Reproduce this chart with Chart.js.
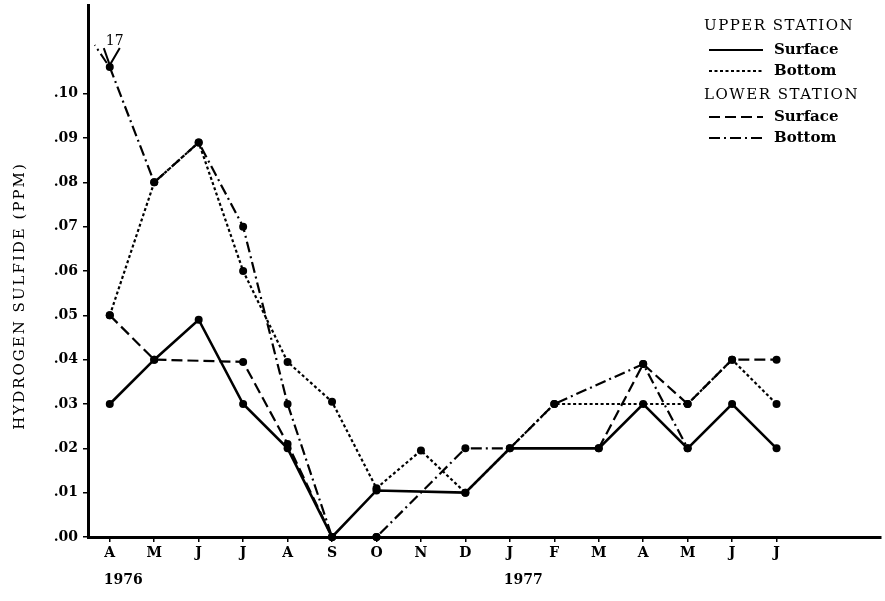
<!DOCTYPE html>
<html>
<head>
<meta charset="utf-8">
<title>Hydrogen sulfide</title>
<script src="https://cdn.jsdelivr.net/npm/chart.js@4"></script>
<style>
  html, body { margin: 0; padding: 0; background: #fff; }
  #wrap { width: 885px; height: 601px; position: relative; }
</style>
</head>
<body>
<div id="wrap"><canvas id="chart"></canvas></div>
<script>
// month index 0 = April 1976 ... 15 = July 1977
const months = ['A', 'M', 'J', 'J', 'A', 'S', 'O', 'N', 'D', 'J', 'F', 'M', 'A', 'M', 'J', 'J'];
const years = ['1976', '', '', '', '', '', '', '', '', '1977', '', '', '', '', '', ''];

const yTickValues = [0, 0.01, 0.02, 0.03, 0.04, 0.05, 0.06, 0.07, 0.08, 0.09, 0.10];
const yTickLabels = ['.00', '.01', '.02', '.03', '.04', '.05', '.06', '.07', '.08', '.09', '.10'];

// null = no sample that month
const upperSurface = [0.030, 0.040, 0.049, 0.030, 0.020, 0.000, 0.0105, null, 0.010, 0.020, null, 0.020, 0.030, 0.020, 0.030, 0.020];
const upperBottom  = [0.050, 0.080, 0.089, 0.060, 0.0395, 0.0305, 0.011, 0.0195, 0.010, null, 0.030, null, null, 0.030, 0.040, 0.030];
const lowerSurface = [0.050, 0.040, null, 0.0395, 0.021, 0.000, 0.000, null, null, null, null, 0.020, 0.039, 0.030, 0.040, 0.040];
const lowerBottom  = [0.106, 0.080, 0.089, 0.070, 0.030, 0.000, 0.000, null, 0.020, 0.020, 0.030, null, 0.039, 0.020, null, null];

// off-scale April 1976 lower bottom value, written beside the broken point
const offScaleNote = { index: 0, text: '17' };

// gaps longer than this many months are left unjoined
const MAX_JOIN = 3;

const SERIF = '"DejaVu Serif", "Liberation Serif", serif';

const toPoints = arr => arr.map((v, i) => ({ x: i, y: v })).filter(p => p.y !== null);

const styles = {
    solid: [],
    dotted: [3, 2.5],
    dashed: [11, 5],
    dashDot: [11, 4, 2, 4]
};

function makeSet(label, data, dash) {
    return {
        label: label,
        data: toPoints(data),
        borderColor: '#000',
        backgroundColor: '#000',
        borderWidth: dash.length ? 2.2 : 2.6,
        borderDash: dash,
        pointRadius: 4,
        pointHoverRadius: 4,
        pointBackgroundColor: '#000',
        pointBorderWidth: 0,
        tension: 0,
        clip: false,
        segment: {
            borderColor: c => (c.p1.parsed.x - c.p0.parsed.x > MAX_JOIN ? 'rgba(0,0,0,0)' : undefined)
        }
    };
}

// legend with station headers, axis title and year labels, drawn on the canvas
const stationLegend = {
    id: 'stationLegend',
    afterDraw(chart) {
        const ctx = chart.ctx;
        const xs = chart.scales.x;
        ctx.save();
        ctx.fillStyle = '#000';
        ctx.strokeStyle = '#000';
        ctx.textBaseline = 'middle';
        ctx.textAlign = 'left';

        const rows = [
            { head: 'UPPER STATION', y: 26 },
            { name: 'Surface', dash: styles.solid, y: 50 },
            { name: 'Bottom', dash: styles.dotted, y: 71 },
            { head: 'LOWER STATION', y: 95 },
            { name: 'Surface', dash: styles.dashed, y: 117 },
            { name: 'Bottom', dash: styles.dashDot, y: 138 }
        ];
        rows.forEach(r => {
            if (r.head) {
                ctx.font = '15px ' + SERIF;
                ctx.letterSpacing = '1.5px';
                ctx.fillText(r.head, 704, r.y);
                ctx.letterSpacing = '0px';
            } else {
                ctx.beginPath();
                ctx.setLineDash(r.dash);
                ctx.lineWidth = 2;
                ctx.moveTo(709, r.y);
                ctx.lineTo(763, r.y);
                ctx.stroke();
                ctx.setLineDash([]);
                ctx.font = 'bold 15px ' + SERIF;
                ctx.fillText(r.name, 774, r.y);
            }
        });

        // years under the month letters
        ctx.font = 'bold 14px ' + SERIF;
        years.forEach((yr, i) => {
            if (yr) ctx.fillText(yr, xs.getPixelForValue(i) - 6, 580);
        });

        // rotated axis title
        ctx.save();
        ctx.translate(20, 296);
        ctx.rotate(-Math.PI / 2);
        ctx.textAlign = 'center';
        ctx.font = '15px ' + SERIF;
        ctx.letterSpacing = '2px';
        ctx.fillText('HYDROGEN SULFIDE (PPM)', 0, 0);
        ctx.restore();

        // broken off-scale point: "17" with a V mark
        const pt = chart.getDatasetMeta(3).data[offScaleNote.index];
        if (pt) {
            ctx.lineWidth = 2;
            ctx.beginPath();
            ctx.moveTo(pt.x - 6, pt.y - 19);
            ctx.lineTo(pt.x, pt.y - 2);
            ctx.lineTo(pt.x + 10, pt.y - 19);
            ctx.stroke();
            ctx.beginPath();
            ctx.setLineDash(styles.dashDot);
            ctx.moveTo(pt.x - 3, pt.y - 4);
            ctx.lineTo(pt.x - 15, pt.y - 22);
            ctx.stroke();
            ctx.setLineDash([]);
            ctx.font = '14px ' + SERIF;
            ctx.textAlign = 'center';
            ctx.fillText(offScaleNote.text, pt.x + 5, pt.y - 26);
        }
        ctx.restore();
    }
};

new Chart(document.getElementById('chart'), {
    type: 'line',
    data: {
        datasets: [
            makeSet('Upper Surface', upperSurface, styles.solid),
            makeSet('Upper Bottom', upperBottom, styles.dotted),
            makeSet('Lower Surface', lowerSurface, styles.dashed),
            makeSet('Lower Bottom', lowerBottom, styles.dashDot)
        ]
    },
    options: {
        responsive: true,
        maintainAspectRatio: false,
        animation: false,
        events: [],
        layout: { padding: { top: 5, right: 0, bottom: 0, left: 0 } },
        plugins: {
            legend: { display: false },
            tooltip: { enabled: false }
        },
        scales: {
            x: {
                type: 'linear',
                min: -0.49,
                max: 17.35,
                afterBuildTicks: scale => {
                    scale.ticks = months.map((m, i) => ({ value: i }));
                },
                afterFit: scale => {
                    scale.height = 64;
                    scale.paddingLeft = 0;
                    scale.paddingRight = 0;
                },
                ticks: {
                    color: '#000',
                    padding: 3,
                    maxRotation: 0,
                    autoSkip: false,
                    font: { family: SERIF, size: 14, weight: 'bold' },
                    callback: value => months[Math.round(value)]
                },
                grid: { drawOnChartArea: false, color: '#000', tickLength: 5, lineWidth: 1.5 },
                border: { color: '#000', width: 3 }
            },
            y: {
                min: 0,
                max: 0.12,
                afterBuildTicks: scale => {
                    scale.ticks = yTickValues.map(v => ({ value: v }));
                },
                afterFit: scale => {
                    scale.width = 88;
                    scale.paddingTop = 0;
                    scale.paddingBottom = 0;
                },
                ticks: {
                    color: '#000',
                    padding: 5,
                    font: { family: SERIF, size: 14, weight: 'bold' },
                    callback: value => {
                        const i = yTickValues.findIndex(v => Math.abs(v - value) < 1e-6);
                        return i >= 0 ? yTickLabels[i] : '';
                    }
                },
                grid: { drawOnChartArea: false, color: '#000', tickLength: 5, lineWidth: 1.5 },
                border: { color: '#000', width: 3 }
            }
        }
    },
    plugins: [stationLegend]
});
</script>
</body>
</html>
